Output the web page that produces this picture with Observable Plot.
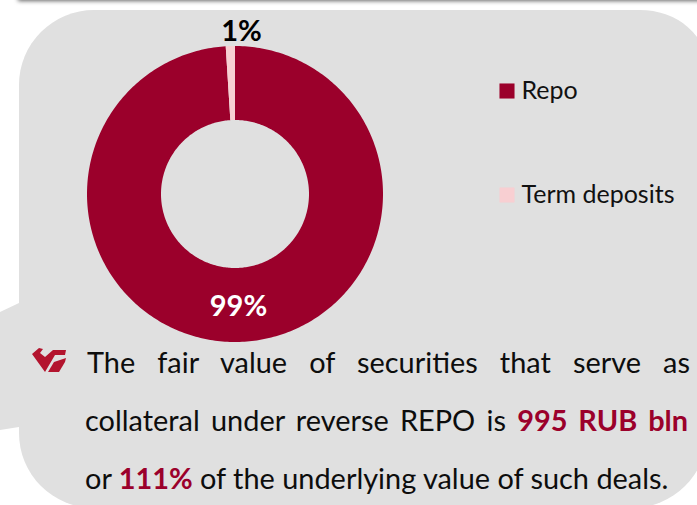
<!DOCTYPE html>
<html>
<head>
<meta charset="utf-8">
<script src="https://cdn.jsdelivr.net/npm/d3@7"></script>
<script src="https://cdn.jsdelivr.net/npm/@observablehq/plot@0.6"></script>
<style>
  html, body { margin: 0; padding: 0; background: #fff; }
  #page { position: relative; width: 697px; height: 505px; overflow: hidden; font-family: Lato, sans-serif; color: #0d0d0d; }
  #topbar { position: absolute; left: 18px; right: -10px; top: -12px; height: 12px; box-shadow: 0 1px 4px rgba(0,0,0,.6); background: #fff; }
  #panel { position: absolute; left: 19px; top: 10px; width: 688px; height: 498px; background: #e0e0e0; border-radius: 75px 67px 75px 75px / 75px 57px 75px 75px; }
  #tab { position: absolute; left: 0; top: 0; width: 30px; height: 505px; }
  #chart { position: absolute; left: 0; top: 0; }
  #chart svg { display: block; background: transparent; }
  .line { position: absolute; font-size: 28.9px; white-space: nowrap; line-height: 34px; }
  .just { text-align: justify; text-align-last: justify; white-space: normal; }
  .line b { color: #9b002b; font-weight: 700; }
  #logo { position: absolute; left: 25px; top: 340px; }
</style>
</head>
<body>
<div id="page">
  <div id="topbar"></div>
  <svg id="tab" viewBox="0 0 30 505"><polygon points="0,312 19,303 30,303 30,427 19,427 0,430" fill="#e0e0e0"/></svg>
  <div id="panel"></div>
  <div id="chart"></div>
  <svg id="logo" width="50" height="40" viewBox="0 0 50 40">
    <path fill="#b3142e" d="M7 14 L14 8 L18 9 L15 13 L20 17 L28 10 L41 10 L40 15 L30 15 L20 32 Z"/>
    <path fill="#b3142e" d="M23 32 L29 22 L41 18 L40 22 L34 32 Z"/>
  </svg>
  <div class="line just" style="left:87px;top:345px;width:603px">The fair value of securities that serve as</div>
  <div class="line just" style="left:85px;top:403px;width:603px">collateral under reverse REPO is <b>995 RUB bln</b></div>
  <div class="line" style="left:85px;top:461px">or <b>111%</b> of the underlying value of such deals.</div>
</div>
<script>
// Portfolio structure by instrument, percent of total
const categories = ["Repo", "Term deposits"];
const shares = [99, 1];
const sliceColors = ["#9b002b", "#f8cfd2"];

const outerRadius = 1;
const innerRadius = 0.5;

// Polygon outline of each ring slice, walked along the outer and inner edge.
const pie = d3.pie().sort(null).value(d => d.share);
const rows = categories.map((category, i) => ({category, share: shares[i]}));
const arcs = pie(rows);
const outline = arcs.flatMap(a => {
  const n = Math.max(8, Math.ceil((a.endAngle - a.startAngle) * 60));
  const along = d3.range(n + 1).map(k => a.startAngle + (a.endAngle - a.startAngle) * k / n);
  const edge = (r, t) => ({category: a.data.category, x: r * Math.sin(t), y: r * Math.cos(t)});
  return [...along.map(t => edge(outerRadius, t)), ...along.slice().reverse().map(t => edge(innerRadius, t))];
});

const labels = shares.map((share, i) => ({text: `${share}%`, i}));

const R = 148;
const cx = 234.5, cy = 193.5;
const fontFamily = "Lato, sans-serif";

const plot = Plot.plot({
  width: 697,
  height: 505,
  margin: 0,
  style: {background: "transparent", overflow: "visible"},
  x: {domain: [-cx / R, (697 - cx) / R], range: [0, 697], axis: null},
  y: {domain: [(cy - 505) / R, cy / R], range: [505, 0], axis: null},
  color: {domain: categories, range: sliceColors},
  marks: [
    Plot.line(outline, {x: "x", y: "y", z: "category", fill: "category", stroke: "none", curve: "linear-closed"}),
    Plot.text(labels.filter(d => d.i === 0), {
      x: () => (238 - cx) / R, y: () => (cy - 306) / R, text: "text", fill: "#fff",
      fontFamily, fontWeight: 700, fontSize: 29
    }),
    Plot.text(labels.filter(d => d.i === 1), {
      x: () => (241 - cx) / R, y: () => (cy - 31) / R, text: "text", fill: "#000",
      fontFamily, fontWeight: 700, fontSize: 29
    }),
    // Legend: one swatch and one label per category
    Plot.dot(categories, {
      x: () => (506.5 - cx) / R, y: (d, i) => [(cy - 90.5) / R, (cy - 194.5) / R][i],
      symbol: "square", r: 8.5, fill: d => d, stroke: "none"
    }),
    Plot.text(categories, {
      x: () => (521 - cx) / R, y: (d, i) => [(cy - 90) / R, (cy - 194) / R][i],
      text: d => d, textAnchor: "start", fill: "#111",
      fontFamily, fontSize: 25
    })
  ]
});
document.getElementById("chart").append(plot);
</script>
</body>
</html>
